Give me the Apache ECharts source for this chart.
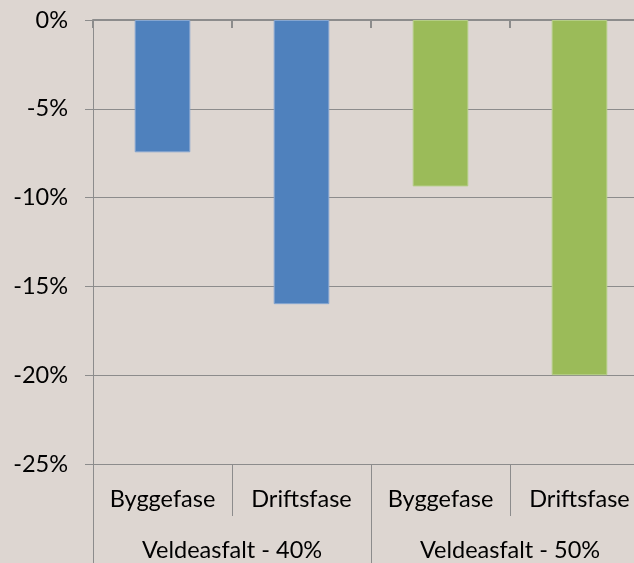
<!DOCTYPE html>
<html>
<head>
<meta charset="utf-8">
<script src="https://cdn.jsdelivr.net/npm/echarts@6/dist/echarts.min.js"></script>
<style>
html,body{margin:0;padding:0;background:#ddd6d1;}
#c{width:634px;height:563px;}
</style>
</head>
<body>
<div id="c"></div>
<script>
const phases = ['Byggefase', 'Driftsfase', 'Byggefase', 'Driftsfase'];
const groups = ['Veldeasfalt - 40%', 'Veldeasfalt - 50%'];
const groupOfBar = [0, 0, 1, 1];
const values = [-7.45, -16.0, -9.37, -20.0];
const yTicks = { min: -25, max: 0, interval: 5 };

const groupColors = ['#4f81bd', '#9bbb59'];
const groupBorders = ['#86a6d0', '#b4cd86'];
const FONT = 'Lato';
const FS = 23.5;
const axisGray = '#8c8c8c';

const chart = echarts.init(document.getElementById('c'), null, { renderer: 'canvas' });
chart.setOption({
  backgroundColor: '#ddd6d1',
  animation: false,
  grid: { left: 93, top: 20, width: 556, height: 444, outerBoundsMode: 'none', containLabel: false },
  xAxis: [
    {
      type: 'category', data: phases, position: 'bottom', gridIndex: 0,
      axisLine: { show: false, onZero: false },
      axisTick: { show: true, length: 52, interval: 0, lineStyle: { color: axisGray, width: 1 } },
      axisLabel: { interval: 0, margin: 23, fontFamily: FONT, fontSize: FS, color: '#000' },
      splitLine: { show: false }
    },
    {
      type: 'category', data: groups, position: 'bottom', gridIndex: 0,
      axisLine: { show: false, onZero: false },
      axisTick: { show: true, length: 99, interval: 0, lineStyle: { color: axisGray, width: 1 } },
      axisLabel: { interval: 0, margin: 74, fontFamily: FONT, fontSize: FS, color: '#000' },
      splitLine: { show: false }
    },
    {
      type: 'category', data: phases, position: 'top', gridIndex: 0,
      axisLine: { show: true, onZero: false, lineStyle: { color: axisGray, width: 2 } },
      axisTick: { show: true, inside: true, length: 8, interval: 0, lineStyle: { color: axisGray, width: 2 } },
      axisLabel: { show: false },
      splitLine: { show: false }
    }
  ],
  yAxis: {
    type: 'value', min: yTicks.min, max: yTicks.max, interval: yTicks.interval,
    axisLine: { show: true, onZero: false, lineStyle: { color: axisGray, width: 1 } },
    axisTick: { show: true, length: 8, lineStyle: { color: axisGray } },
    axisLabel: { margin: 25, fontFamily: FONT, fontSize: FS, color: '#000', formatter: v => v + '%' },
    splitLine: { show: true, lineStyle: { color: axisGray, width: 1 } }
  },
  series: [{
    type: 'bar', xAxisIndex: 0, yAxisIndex: 0, barWidth: '40%',
    data: values.map((v, i) => ({
      value: v,
      itemStyle: { color: groupColors[groupOfBar[i]], borderColor: groupBorders[groupOfBar[i]], borderWidth: 1 }
    }))
  }]
});
</script>
</body>
</html>
